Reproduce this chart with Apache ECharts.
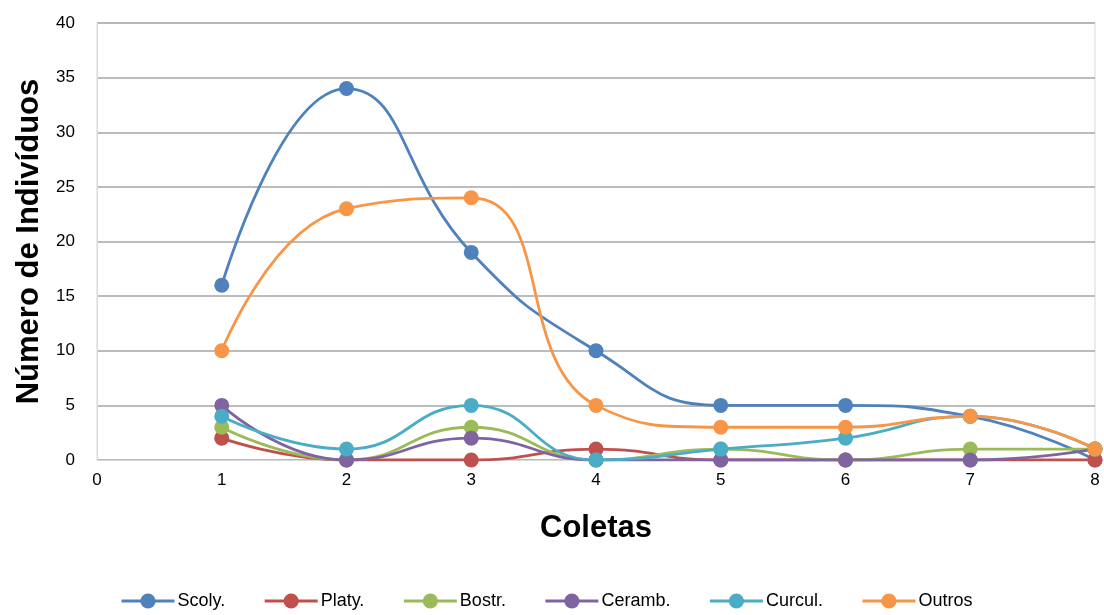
<!DOCTYPE html>
<html>
<head>
<meta charset="utf-8">
<script src="https://cdn.jsdelivr.net/npm/echarts@6/dist/echarts.min.js"></script>
<style>html,body{margin:0;padding:0;background:#fff}#chart{width:1104px;height:615px}</style>
</head>
<body>
<div id="chart"></div>
<script>
// Coletas 1..8
var coletas = [1, 2, 3, 4, 5, 6, 7, 8];
var scoly  = [16, 34, 19, 10, 5, 5, 4, 0];
var platy  = [2, 0, 0, 1, 0, 0, 0, 0];
var bostr  = [3, 0, 3, 0, 1, 0, 1, 1];
var ceramb = [5, 0, 2, 0, 0, 0, 0, 1];
var curcul = [4, 1, 5, 0, 1, 2, 4, 1];
var outros = [10, 23, 24, 5, 3, 3, 4, 1];

var nomes = ['Scoly.', 'Platy.', 'Bostr.', 'Ceramb.', 'Curcul.', 'Outros'];
var valores = [scoly, platy, bostr, ceramb, curcul, outros];
var cores = ['#4f81bd', '#c0504d', '#9bbb59', '#8064a2', '#4bacc6', '#f79646'];

var myChart = echarts.init(document.getElementById('chart'));

var series = nomes.map(function (nome, i) {
  return {
    name: nome,
    type: 'line',
    smooth: 0.5,
    smoothConstraint: false,
    symbol: 'circle',
    symbolSize: 15,
    lineStyle: { width: 2.8, color: cores[i] },
    itemStyle: { color: cores[i] },
    data: coletas.map(function (c, j) { return [c, valores[i][j]]; })
  };
});

myChart.setOption({
  animation: false,
  backgroundColor: '#fff',
  textStyle: { fontFamily: 'Liberation Sans, Arial, sans-serif' },
  grid: {
    left: 97, right: 9, top: 23, bottom: 155,
    show: true, borderColor: '#d9d9d9', borderWidth: 1
  },
  legend: {
    bottom: 0,
    left: 115,
    itemWidth: 53,
    itemHeight: 19,
    itemGap: 38,
    lineStyle: { width: 3 },
    textStyle: { fontSize: 18, color: '#000', padding: [0, 0, 0, -2] },
    data: nomes
  },
  xAxis: {
    type: 'value',
    min: 0, max: 8, interval: 1,
    name: 'Coletas',
    nameLocation: 'middle',
    nameGap: 53,
    nameTextStyle: { fontSize: 31, fontWeight: 'bold', color: '#000' },
    axisLine: { lineStyle: { color: '#d9d9d9' } },
    axisTick: { show: false },
    axisLabel: { fontSize: 17, color: '#000', margin: 12 },
    splitLine: { show: false }
  },
  yAxis: {
    type: 'value',
    min: 0, max: 40, interval: 5,
    name: 'Número de Indivíduos',
    nameLocation: 'middle',
    nameGap: 52,
    nameTextStyle: { fontSize: 31, fontWeight: 'bold', color: '#000' },
    axisLine: { show: true, lineStyle: { color: '#d9d9d9' } },
    axisTick: { show: false },
    axisLabel: { fontSize: 17, color: '#000', margin: 22 },
    splitLine: { lineStyle: { color: '#a6a6a6', width: 1.5 } }
  },
  series: series
});
</script>
</body>
</html>
